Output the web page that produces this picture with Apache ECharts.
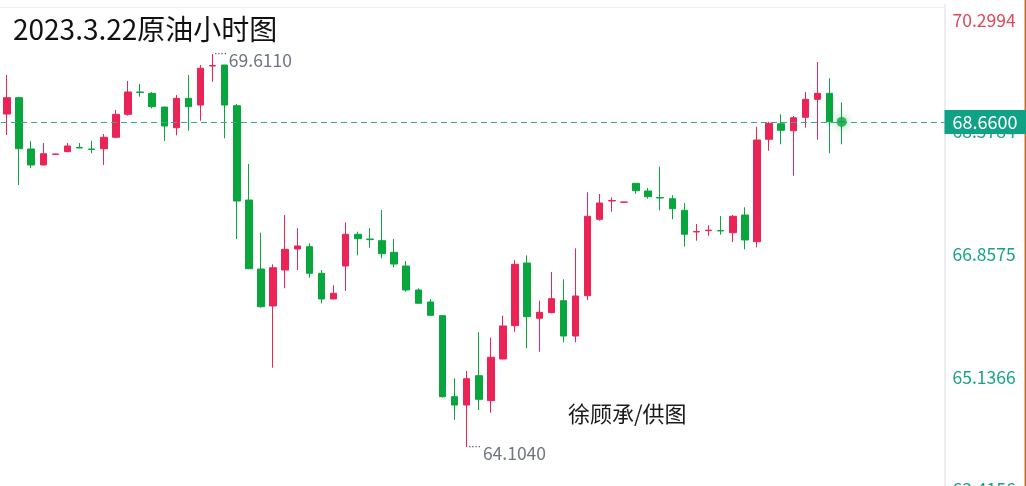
<!DOCTYPE html>
<html>
<head>
<meta charset="utf-8">
<script src="https://cdn.jsdelivr.net/npm/echarts@6/dist/echarts.min.js"></script>
<style>
html,body{margin:0;padding:0;background:#fff;}
#c{width:1026px;height:486px;}
</style>
</head>
<body>
<div id="c"></div>
<script>
// ---- data ----
var titleText = '2023.3.22原油小时图';
var creditText = '徐顾承/供图';
var opens = [68.770,68.999,68.280,68.056,68.203,68.242,68.301,68.280,68.284,68.444,68.766,69.079,69.060,68.868,68.578,68.990,68.896,69.443,69.457,68.887,67.565,66.598,66.080,66.584,66.879,66.911,66.538,66.178,66.640,67.085,67.019,66.995,66.832,66.640,66.304,66.136,65.944,64.809,64.692,65.103,64.753,65.337,65.804,66.682,65.907,65.986,66.154,65.659,66.224,67.295,67.551,67.534,67.799,67.691,67.600,67.583,67.421,67.117,67.136,67.138,67.107,67.355,66.981,68.416,68.634,68.536,68.724,68.976,69.060,68.665];
var closes = [68.999,68.284,68.056,68.214,68.210,68.322,68.294,68.273,68.444,68.766,69.079,69.072,68.873,68.602,68.990,68.873,69.411,69.450,68.896,67.551,66.602,66.070,66.616,66.874,66.921,66.538,66.178,66.258,67.085,67.023,67.010,66.813,66.668,66.304,66.118,65.949,64.809,64.692,65.061,64.772,65.361,65.800,66.664,65.930,65.991,66.182,65.659,66.220,67.337,67.523,67.558,67.537,67.695,67.611,67.593,67.443,67.085,67.124,67.142,67.131,67.337,67.005,68.406,68.640,68.542,68.718,68.976,69.060,68.662,68.660];
var lows = [68.476,67.775,68.014,68.050,68.200,68.240,68.290,68.220,68.056,68.430,68.746,69.013,68.850,68.392,68.472,68.536,68.676,69.223,68.430,67.019,66.600,66.056,65.215,66.328,66.584,66.476,66.118,66.175,66.290,66.790,66.897,66.748,66.622,66.280,66.115,65.947,64.795,64.482,64.104,64.622,64.585,65.335,65.720,65.487,65.439,65.978,65.571,65.571,66.164,67.275,67.401,67.532,67.653,67.583,67.421,67.295,66.911,66.995,67.065,67.079,66.977,66.874,66.902,68.256,68.346,67.906,68.578,68.410,68.220,68.346];
var highs = [69.317,69.010,68.392,68.364,68.212,68.364,68.364,68.396,68.490,68.826,69.233,69.191,69.079,68.870,69.037,69.317,69.457,69.611,69.457,68.910,68.070,67.107,66.664,67.355,67.169,66.958,66.584,66.370,67.253,67.121,67.169,67.425,67.019,66.710,66.328,66.178,65.946,65.067,65.169,65.715,65.636,65.944,66.724,66.790,66.154,66.556,66.454,66.888,67.673,67.649,67.603,67.540,67.800,67.733,68.032,67.631,67.523,67.229,67.211,67.341,67.355,67.463,68.592,68.662,68.766,68.742,69.079,69.499,69.271,68.934];
var lastPrice = 68.66;
var emptySlots = 8;              // blank hours kept on the right of the last candle
var axisMin = 63.4156;
var axisMax = 70.2994;
var axisStep = 1.72095;
var axisTickLabels = ['63.4156','65.1366','66.8575','68.5784','70.2994'];

// ---- build ----
var FONT = '"Noto Sans CJK SC", "Noto Sans", sans-serif';
var UP = '#eb2457', DOWN = '#08a63d';
var cats = [];
for (var i = 0; i < opens.length + emptySlots; i++) cats.push('h' + i);
var kData = opens.map(function (o, i) { return [o, closes[i], lows[i], highs[i]]; });
var lastIdx = opens.length - 1;

var extremeLabel = {
  show: true,
  position: 'right',
  distance: 1,
  offset: [0, 6],
  formatter: function (p) { return '{d|····}{v|' + Number(p.value).toFixed(4) + '}'; },
  rich: {
    d: { fontSize: 10, color: '#3a3d45', padding: [0, 2, 12, 0], fontFamily: '"DejaVu Sans", sans-serif' },
    v: { fontSize: 17.5, color: '#6f7482', fontFamily: FONT }
  }
};

var chart = echarts.init(document.getElementById('c'), null, { renderer: 'canvas' });
chart.setOption({
  animation: false,
  backgroundColor: '#ffffff',
  textStyle: { fontFamily: FONT },
  title: {
    text: titleText,
    left: 8, top: 10,
    textStyle: { fontSize: 28, fontWeight: 'normal', color: '#111', fontFamily: FONT }
  },
  grid: { left: 0.95, right: 81.5, top: 4.9, bottom: -10.1, outerBoundsMode: 'none', containLabel: false },
  xAxis: [{
    type: 'category', data: cats, boundaryGap: true,
    axisLine: { show: false }, axisTick: { show: false }, axisLabel: { show: false }, splitLine: { show: false }
  }, {
    type: 'category', data: cats, position: 'top', offset: -2,
    axisLine: { show: true, lineStyle: { color: '#ececf1', width: 1 } },
    axisTick: { show: false }, axisLabel: { show: false }, splitLine: { show: false }
  }],
  yAxis: {
    type: 'value', position: 'right', scale: true,
    min: axisMin, max: axisMax, interval: axisStep,
    axisLine: { show: true, lineStyle: { color: '#ececf1', width: 2 } },
    axisTick: { show: false }, splitLine: { show: false },
    axisLabel: {
      show: true, inside: false, margin: 8, fontSize: 17.5, fontFamily: FONT,
      padding: [8, 0, 0, 0],
      color: function (v) { return Number(v) > lastPrice ? '#e0475c' : '#17a386'; },
      formatter: function (v) {
        var k = Math.round((v - axisMin) / axisStep);
        var t = axisTickLabels[k] || Number(v).toFixed(4);
        if (k === axisTickLabels.length - 1) return '{t|' + t + '}';
        if (k === 0) return '{b|' + t + '}';
        return t;
      },
      rich: {
        t: { fontSize: 17.5, fontFamily: FONT, padding: [22, 0, 0, 0], color: '#e0475c' },
        b: { fontSize: 17.5, fontFamily: FONT, padding: [0, 0, 22, 0], color: '#17a386' }
      }
    }
  },
  series: [{
    type: 'candlestick',
    data: kData,
    barWidth: 7,
    itemStyle: { color: UP, color0: DOWN, borderColor: UP, borderColor0: DOWN, borderWidth: 1 },
    markLine: {
      silent: true, symbol: ['none', 'none'],
      lineStyle: { type: [6, 4], color: '#3aa58f', width: 1 },
      label: {
        show: true, position: 'end', distance: 0,
        formatter: function () { return lastPrice.toFixed(4); },
        backgroundColor: '#0fa286', color: '#ffffff', fontSize: 18, fontFamily: FONT,
        padding: [3, 8, 3, 8], width: 66, align: 'left'
      },
      data: [{ yAxis: lastPrice }]
    },
    markPoint: {
      symbol: 'circle', symbolSize: 1, silent: true,
      itemStyle: { color: 'rgba(0,0,0,0)' },
      label: extremeLabel,
      data: [{ type: 'max', valueDim: 'highest' }, { type: 'min', valueDim: 'lowest' }]
    }
  }, {
    type: 'scatter',
    data: [[lastIdx, lastPrice]],
    symbolSize: 10,
    silent: true,
    itemStyle: { color: '#12a845', shadowBlur: 8, shadowColor: 'rgba(18,168,69,0.7)' },
    z: 5
  }],
  graphic: [{
    type: 'text', left: 568, top: 403,
    style: { text: creditText, fontSize: 22, fill: '#1a1a1a', fontFamily: FONT }
  }, {
    type: 'rect', right: 0, top: 0,
    shape: { width: 1.5, height: 486 },
    style: { fill: '#c2702e' }
  }]
});
</script>
</body>
</html>
